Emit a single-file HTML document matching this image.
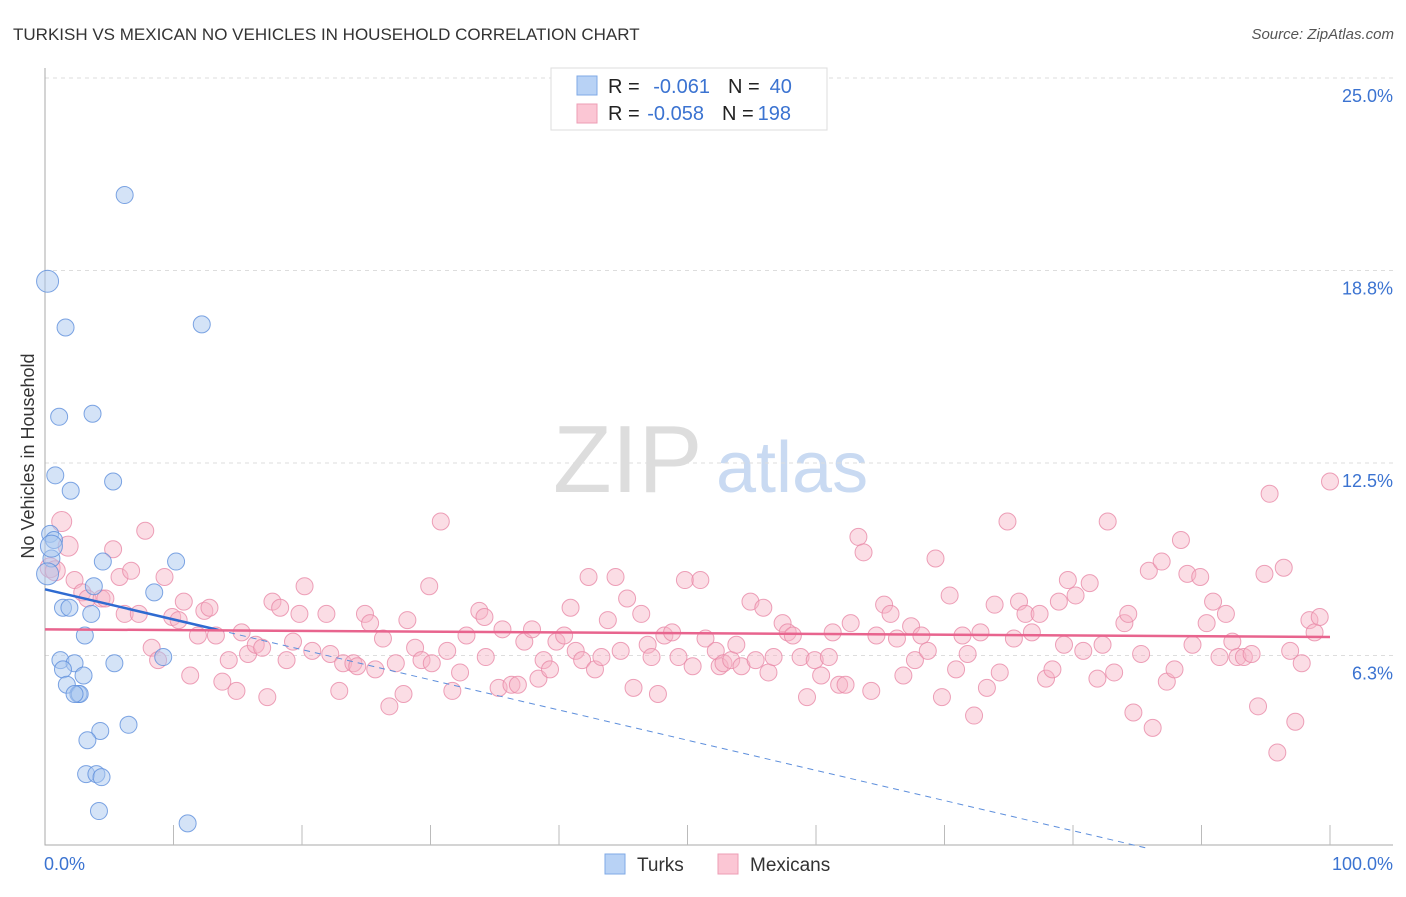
<!DOCTYPE html>
<html><head><meta charset="utf-8"><style>
body{margin:0;background:#fff;font-family:"Liberation Sans",sans-serif;}
svg text{font-family:"Liberation Sans",sans-serif;}
</style></head><body>
<svg id="chart" width="1406" height="892" viewBox="0 0 1406 892" xmlns="http://www.w3.org/2000/svg">
<text x="13" y="40" font-size="17" fill="#333">TURKISH VS MEXICAN NO VEHICLES IN HOUSEHOLD CORRELATION CHART</text>
<text x="1394" y="39" font-size="15" fill="#555" font-style="italic" text-anchor="end">Source: ZipAtlas.com</text>
<g>
<text x="553" y="492" font-size="96" fill="#ddd" font-family="Liberation Serif">ZIP</text>
<text x="716" y="492" font-size="72" fill="#c9daf2">atlas</text>
</g>
<g id="grid"></g><g id="axes"></g><g id="pts"></g><g id="trends"></g>
<text transform="translate(34,456) rotate(-90)" font-size="18" fill="#333" text-anchor="middle">No Vehicles in Household</text>
<g>
<rect x="551" y="68" width="276" height="62" fill="#fff" stroke="#ddd"/>
<rect x="577" y="76" width="20" height="19" fill="#b8d2f5" stroke="#7fa9e6"/>
<rect x="577" y="104" width="20" height="19" fill="#fbc6d4" stroke="#ee9db5"/>
<text x="608" y="93" font-size="20" fill="#222">R = <tspan fill="#3b73d1" dx="8">-0.061</tspan><tspan dx="18">N =</tspan><tspan fill="#3b73d1" dx="10">40</tspan></text>
<text x="608" y="120" font-size="20" fill="#222">R = <tspan fill="#3b73d1" dx="2">-0.058</tspan><tspan dx="18">N =</tspan><tspan fill="#3b73d1" dx="4">198</tspan></text>
</g>
<g>
<rect x="605" y="854" width="20" height="20" fill="#b8d2f5" stroke="#7fa9e6"/>
<text x="637" y="871" font-size="19" fill="#333">Turks</text>
<rect x="718" y="854" width="20" height="20" fill="#fbc6d4" stroke="#ee9db5"/>
<text x="750" y="871" font-size="19" fill="#333">Mexicans</text>
</g>
</svg>
<script>
const xTickLabels=["0.0%","100.0%"];
const yTickValues=[6.25,12.5,18.75,25];
const yTickLabels=["6.3%","12.5%","18.8%","25.0%"];
const turksX=[6.2,0.2,1.6,12.2,1.1,3.7,0.8,2.0,5.3,0.4,0.7,0.5,4.5,10.2,3.8,8.5,1.4,1.9,3.6,3.1,1.2,2.3,9.2,5.4,1.4,3.0,1.7,2.6,2.7,2.3,4.3,6.5,3.3,3.2,4.0,4.4,4.2,11.1,0.5,0.2];
const turksY=[21.2,18.4,16.9,17.0,14.0,14.1,12.1,11.6,11.9,10.2,10.0,9.4,9.3,9.3,8.5,8.3,7.8,7.8,7.6,6.9,6.1,6.0,6.2,6.0,5.8,5.6,5.3,5.0,5.0,5.0,3.8,4.0,3.5,2.4,2.4,2.3,1.2,0.8,9.8,8.9];
const mexX=[1.3,1.8,0.4,0.8,2.3,2.9,3.3,4.4,4.7,5.3,5.8,6.7,7.8,9.3,6.2,7.3,8.3,8.8,9.9,10.4,10.8,11.3,12.4,12.8,11.9,13.3,13.8,14.9,14.3,15.3,15.8,16.4,16.9,17.3,17.7,18.3,18.8,19.3,19.8,20.2,20.8,21.9,22.2,22.9,23.2,24.0,24.3,24.9,25.3,25.7,26.3,26.8,27.3,27.9,28.2,28.8,29.3,30.1,29.9,30.8,31.3,31.7,32.3,32.8,33.8,34.2,34.3,35.3,35.6,36.3,36.8,37.3,37.9,38.4,38.8,39.3,39.8,40.4,40.9,41.3,41.8,42.3,42.8,43.3,43.8,44.4,44.8,45.3,45.8,46.4,46.9,47.2,47.7,48.2,48.8,49.3,49.8,50.4,51.0,51.4,52.2,52.5,52.8,53.4,53.8,54.2,54.9,55.3,55.9,56.3,56.7,57.4,57.8,58.2,58.8,59.3,59.9,60.4,61.0,61.3,61.8,62.3,62.7,63.3,63.7,64.3,64.7,65.3,65.8,66.3,66.8,67.4,67.7,68.2,68.7,69.3,69.8,70.4,70.9,71.4,71.8,72.3,72.8,73.3,73.9,74.3,74.9,75.4,75.8,76.3,76.8,77.4,77.9,78.4,78.9,79.3,79.6,80.2,80.8,81.3,81.9,82.3,82.7,83.2,84.0,84.3,84.7,85.3,85.9,86.2,86.9,87.3,87.9,88.4,88.9,89.3,89.9,90.4,90.9,91.4,91.9,92.4,92.8,93.3,93.9,94.4,94.9,95.3,95.9,96.4,96.9,97.3,97.8,98.4,98.8,99.2,100];
const mexY=[10.6,9.8,9.1,9.0,8.7,8.3,8.1,8.1,8.1,9.7,8.8,9.0,10.3,8.8,7.6,7.6,6.5,6.1,7.5,7.4,8.0,5.6,7.7,7.8,6.9,6.9,5.4,5.1,6.1,7.0,6.3,6.6,6.5,4.9,8.0,7.8,6.1,6.7,7.6,8.5,6.4,7.6,6.3,5.1,6.0,6.0,5.9,7.6,7.3,5.8,6.8,4.6,6.0,5.0,7.4,6.5,6.1,6.0,8.5,10.6,6.4,5.1,5.7,6.9,7.7,7.5,6.2,5.2,7.1,5.3,5.3,6.7,7.1,5.5,6.1,5.8,6.7,6.9,7.8,6.4,6.1,8.8,5.8,6.2,7.4,8.8,6.4,8.1,5.2,7.6,6.6,6.2,5.0,6.9,7.0,6.2,8.7,5.9,8.7,6.8,6.4,5.9,6.0,6.1,6.6,5.9,8.0,6.1,7.8,5.7,6.2,7.3,7.0,6.9,6.2,4.9,6.1,5.6,6.2,7.0,5.3,5.3,7.3,10.1,9.6,5.1,6.9,7.9,7.6,6.8,5.6,7.2,6.1,6.9,6.4,9.4,4.9,8.2,5.8,6.9,6.3,4.3,7.0,5.2,7.9,5.7,10.6,6.8,8.0,7.6,7.0,7.6,5.5,5.8,8.0,6.6,8.7,8.2,6.4,8.6,5.5,6.6,10.6,5.7,7.3,7.6,4.4,6.3,9.0,3.9,9.3,5.4,5.8,10.0,8.9,6.6,8.8,7.3,8.0,6.2,7.6,6.7,6.2,6.2,6.3,4.6,8.9,11.5,3.1,9.1,6.4,4.1,6.0,7.4,7.0,7.5,11.9];
const turkTrend=[8.4,-0.098];   // intercept, slope per %
const mexTrend=[7.1,-0.0025];

const NS="http://www.w3.org/2000/svg";
const X=v=>45+v*12.85, Y=v=>848-v*30.8;
function mk(tag,attrs,parent){const e=document.createElementNS(NS,tag);for(const k in attrs)e.setAttribute(k,attrs[k]);parent.appendChild(e);return e;}
const grid=document.getElementById('grid'),axes=document.getElementById('axes'),pts=document.getElementById('pts'),tr=document.getElementById('trends');
yTickValues.forEach((v,i)=>{
 const l=mk('line',{x1:45,x2:1393,y1:Y(v),y2:Y(v),stroke:'#ddd','stroke-dasharray':'4,4'},grid);
 
 
 const t=mk('text',{x:1393,y:Y(v)+24,'font-size':18,fill:'#3b73d1','text-anchor':'end'},axes);
 t.textContent=yTickLabels[i];
 
 
});
const ax=mk('path',{d:`M45 68V845H1393`,stroke:'#aaa',fill:'none'},axes);


for(let i=1;i<=10;i++){
 const t=mk('line',{x1:X(i*10),x2:X(i*10),y1:825,y2:845,stroke:'#bbb'},axes);
 
 
}
[[0,'start'],[100,'end']].forEach((a,i)=>{
 const t=mk('text',{x:X(a[0])+(i?63:-1),y:870,'font-size':18,fill:'#3b73d1','text-anchor':a[1]},axes);
 t.textContent=xTickLabels[i];
 
 
});
mexX.forEach((x,i)=>{
 const c=mk('circle',{cx:X(x),cy:Y(mexY[i]),r:(x<2?10:8.5),fill:'#f7b3c6','fill-opacity':0.45,stroke:'#e88aa7','stroke-opacity':0.8},pts);
 
 
});
turksX.forEach((x,i)=>{
 const c=mk('circle',{cx:X(x),cy:Y(turksY[i]),r:(i>=38||i==1?11:8.5),fill:'#a9c8f0','fill-opacity':0.5,stroke:'#5e8fdc','stroke-opacity':0.8},pts);
 
 
});
const ty=x=>turkTrend[0]+turkTrend[1]*x, my=x=>mexTrend[0]+mexTrend[1]*x;
const xEnd=-turkTrend[0]/turkTrend[1];
let l=mk('line',{x1:X(0),y1:Y(ty(0)),x2:X(13.5),y2:Y(ty(13.5)),stroke:'#2f6bd1','stroke-width':2.5},tr);


l=mk('line',{x1:X(13.5),y1:Y(ty(13.5)),x2:X(xEnd),y2:Y(0),stroke:'#5e8fdc','stroke-width':1,'stroke-dasharray':'6,5'},tr);


l=mk('line',{x1:X(0),y1:Y(my(0)),x2:X(100),y2:Y(my(100)),stroke:'#e8648e','stroke-width':2.5},tr);


</script>
</body></html>
